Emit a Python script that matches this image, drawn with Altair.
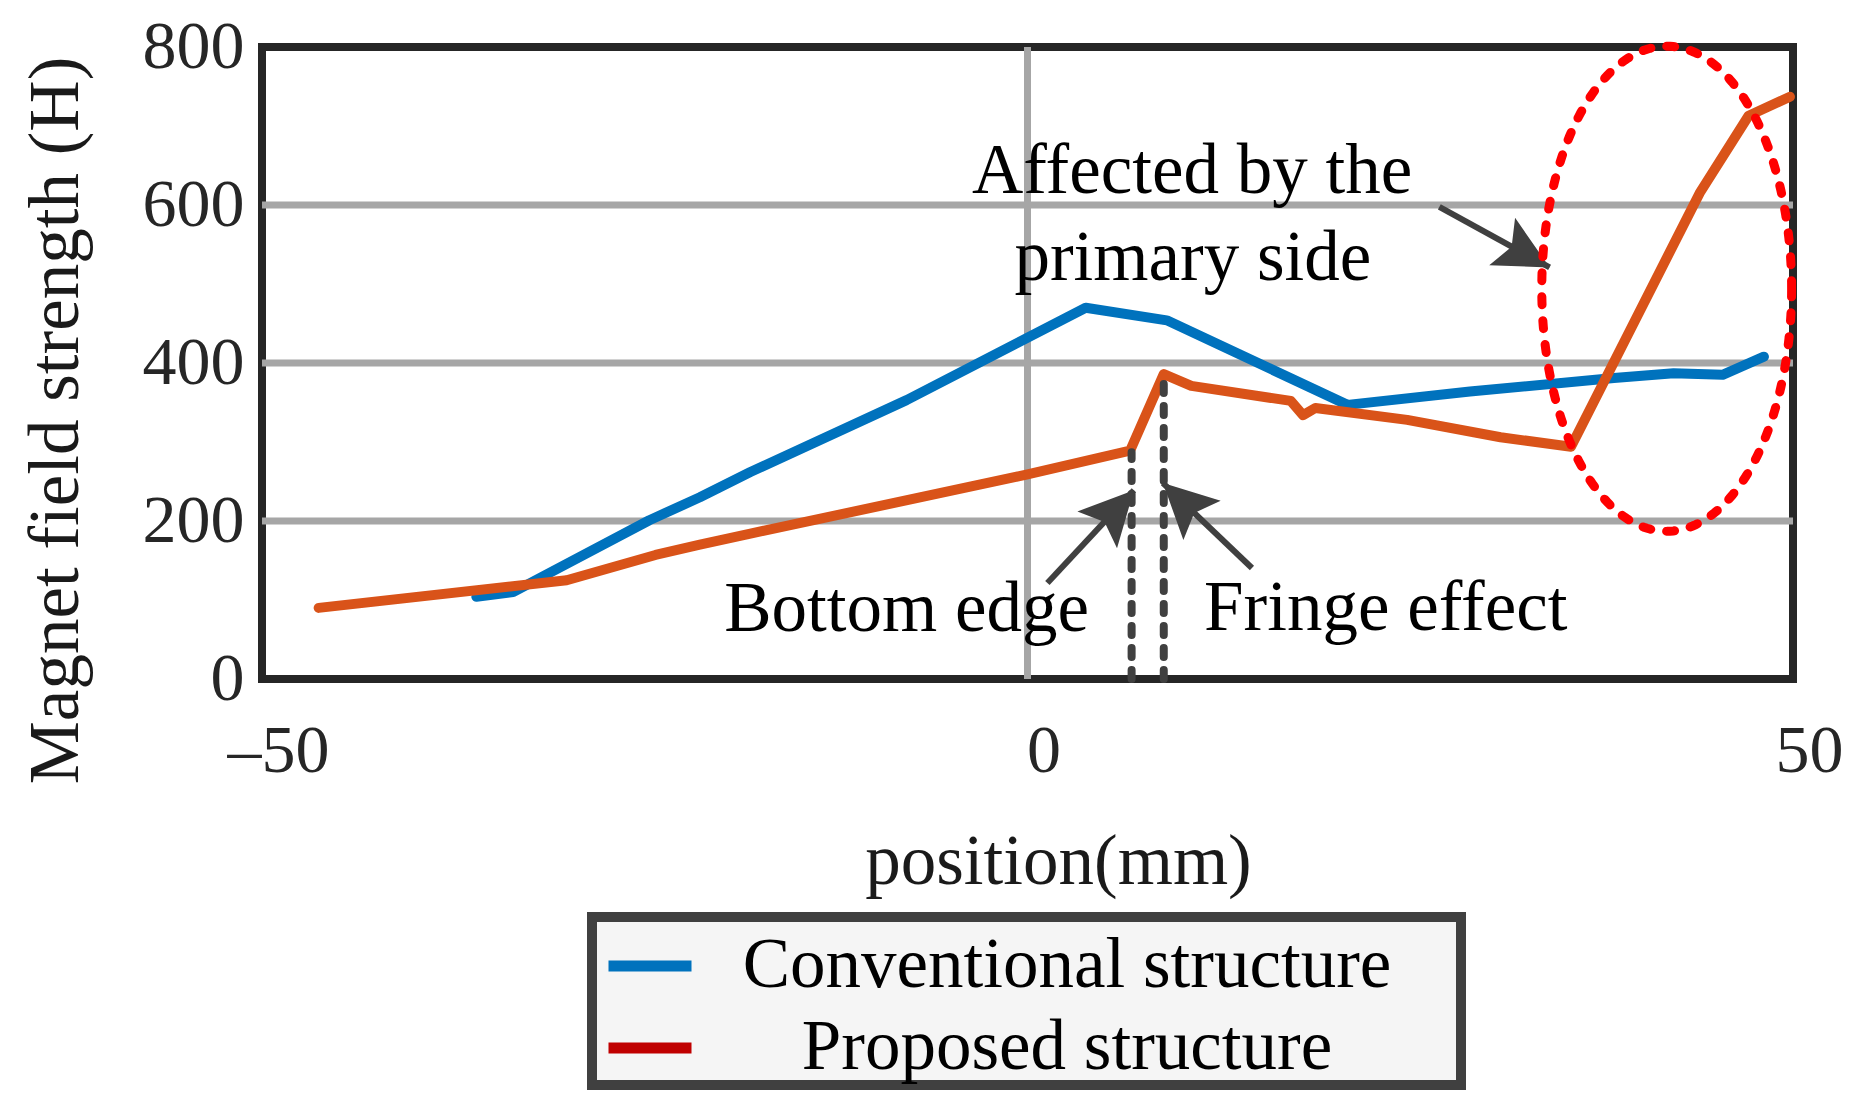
import altair as alt
import numpy as np
import pandas as pd

# ---------------- data ----------------
conv_x = [-36.0, -33.6, -24.7, -21.4, -18.1, -7.9, 3.8, 9.1, 20.9, 28.9, 38.3, 42.2, 45.4, 48.1]
conv_y = [104, 110, 201, 230, 262, 353, 470, 454, 347, 364, 381, 387, 385, 408]

prop_x = [-46.3, -30.1, -24.3, -21.4, -18.1, 0.0, 6.7, 8.9, 10.7, 17.2, 18.0, 18.8,
          24.8, 30.9, 35.5, 43.9, 47.1, 49.8]
prop_y = [90, 125, 157, 170, 184, 259, 289, 386, 371, 352, 334, 343,
          328, 306, 294, 615, 713, 737]

series_names = ["Conventional structure", "Proposed structure"]
line_colors = ["#0072BD", "#D95319"]
legend_colors = ["#0072BD", "#C00000"]

x_ticks = [-50, 0, 50]
y_ticks = [0, 200, 400, 600, 800]
x_grid = [0]
y_grid = [200, 400, 600]

# annotations
ann_text = ["Affected by the", "primary side", "Bottom edge", "Fringe effect"]
ann_x = [10.75, 10.8, -7.9, 23.4]
ann_y = [615, 505, 61, 62]

dash_x = [6.8, 8.9]
dash_top = [287, 380]

arrow_tail_x = [1.3, 14.66, 26.9]
arrow_tail_y = [121.5, 140.5, 597.5]
arrow_tip_x = [6.95, 8.85, 34.1]
arrow_tip_y = [239, 248, 521]
arrow_angle = [42.8, 313.7, 118.6]

ell_cx, ell_cy, ell_ax, ell_by = 41.75, 494, 8.16, 307

# ---------------- tables ----------------
rows = []
for i, (xv, yv) in enumerate(zip(conv_x, conv_y)):
    rows.append({"x": xv, "y": yv, "series": series_names[0], "i": i})
for i, (xv, yv) in enumerate(zip(prop_x, prop_y)):
    rows.append({"x": xv, "y": yv, "series": series_names[1], "i": i})
df = pd.DataFrame(rows)

ann_df = pd.DataFrame({"x": ann_x, "y": ann_y, "t": ann_text})
dash_df = pd.DataFrame({"x": dash_x, "y": [0, 0], "y2": dash_top})
arr_df = pd.DataFrame({"x": arrow_tail_x, "y": arrow_tail_y,
                       "x2": arrow_tip_x, "y2": arrow_tip_y, "ang": arrow_angle})
t = np.linspace(0, 2 * np.pi, 241)
ell_df = pd.DataFrame({"x": ell_cx + ell_ax * np.cos(t),
                       "y": ell_cy + ell_by * np.sin(t),
                       "i": np.arange(len(t))})
xg_df = pd.DataFrame({"x": x_grid})
yg_df = pd.DataFrame({"y": y_grid})

FONT = "Liberation Serif"
GRID = "#a6a6a6"

xscale = alt.Scale(domain=[-50, 50], nice=False, zero=False)
yscale = alt.Scale(domain=[0, 800], nice=False)

xaxis = alt.Axis(values=x_ticks, title="position(mm)", grid=False, ticks=False, tickSize=0,
                 domain=False, labelFlush=False, labelOverlap=False,
                 labelPadding=38, labelOffset=16,
                 labelExpr="datum.value < 0 ? '\u2013' + (-datum.value) : datum.label",
                 titleX=796, titleY=204, titleBaseline="alphabetic", titleAlign="center")
yaxis = alt.Axis(values=y_ticks, title="Magnet field strength (H)", grid=False, ticks=False,
                 tickSize=0, domain=False, labelFlush=False, labelOverlap=False,
                 labelPadding=18,
                 titleAngle=270, titleX=-185, titleY=373, titleAlign="center",
                 titleBaseline="alphabetic")

xgrid = alt.Chart(xg_df).mark_rule(color=GRID, strokeWidth=7).encode(
    x=alt.X("x:Q", scale=xscale, axis=xaxis))
ygrid = alt.Chart(yg_df).mark_rule(color=GRID, strokeWidth=7).encode(
    y=alt.Y("y:Q", scale=yscale, axis=yaxis))

lines = alt.Chart(df).mark_line(strokeWidth=10, strokeCap="round", strokeJoin="round").encode(
    x=alt.X("x:Q", scale=xscale),
    y=alt.Y("y:Q", scale=yscale),
    stroke=alt.Stroke("series:N", scale=alt.Scale(domain=series_names, range=line_colors),
                      legend=None),
    order=alt.Order("i:Q"),
)

legend_layer = alt.Chart(df).transform_filter("datum.x > 1000").mark_line(strokeWidth=1).encode(
    x=alt.X("x:Q", scale=xscale),
    y=alt.Y("y:Q", scale=yscale),
    color=alt.Color("series:N", scale=alt.Scale(domain=series_names, range=legend_colors),
                    legend=alt.Legend(orient="none", legendX=330, legendY=870,
                                      direction="vertical", title=" ", titleOrient="right",
                                      titlePadding=68, titleFontSize=20,
                                      symbolType="stroke", symbolSize=6889,
                                      symbolStrokeWidth=11, symbolOffset=9,
                                      labelAlign="center", labelOffset=370,
                                      labelFont=FONT, labelFontSize=71, labelColor="black",
                                      labelLimit=2000, rowPadding=0, padding=2,
                                      strokeColor="#404040",
                                      fillColor="#f5f5f5", cornerRadius=0)),
)

dashes = alt.Chart(dash_df).mark_rule(color="#404040", strokeWidth=8, strokeDash=[9, 13],
                                      strokeCap="round").encode(
    x=alt.X("x:Q", scale=xscale), y=alt.Y("y:Q", scale=yscale), y2="y2:Q")

shafts = alt.Chart(arr_df).mark_rule(color="#404040", strokeWidth=6).encode(
    x=alt.X("x:Q", scale=xscale), y=alt.Y("y:Q", scale=yscale), x2="x2:Q", y2="y2:Q")

heads = alt.Chart(arr_df).mark_point(shape="M0,0 L1,2 L0,1.6 L-1,2 Z", filled=True,
                                     color="#404040", opacity=1, size=2916).encode(
    x=alt.X("x2:Q", scale=xscale), y=alt.Y("y2:Q", scale=yscale),
    angle=alt.Angle("ang:Q", scale=None))

ellipse = alt.Chart(ell_df).mark_line(color="#FF0000", strokeWidth=9, strokeDash=[8, 16],
                                      strokeCap="round").encode(
    x=alt.X("x:Q", scale=xscale), y=alt.Y("y:Q", scale=yscale), order="i:Q")

texts = alt.Chart(ann_df).mark_text(font=FONT, fontSize=71, color="black", align="center",
                                    baseline="alphabetic").encode(
    x=alt.X("x:Q", scale=xscale), y=alt.Y("y:Q", scale=yscale), text="t:N")

chart = alt.layer(xgrid, ygrid, legend_layer, lines, dashes, shafts, heads, ellipse,
                  texts).properties(
    width=1531, height=632,
    autosize=alt.AutoSizeParams(type="none"),
    padding={"left": 254, "top": 39, "right": 60, "bottom": 420},
    background="white",
).configure_view(
    stroke="#262626", strokeWidth=8
).configure_axis(
    labelFont=FONT, labelFontSize=68, labelColor="#262626",
    titleFont=FONT, titleFontSize=71, titleFontWeight="normal", titleColor="#1a1a1a",
).configure_legend(
    strokeWidth=10
)

chart.save("out.html", embed_options={"renderer": "svg", "actions": False})
